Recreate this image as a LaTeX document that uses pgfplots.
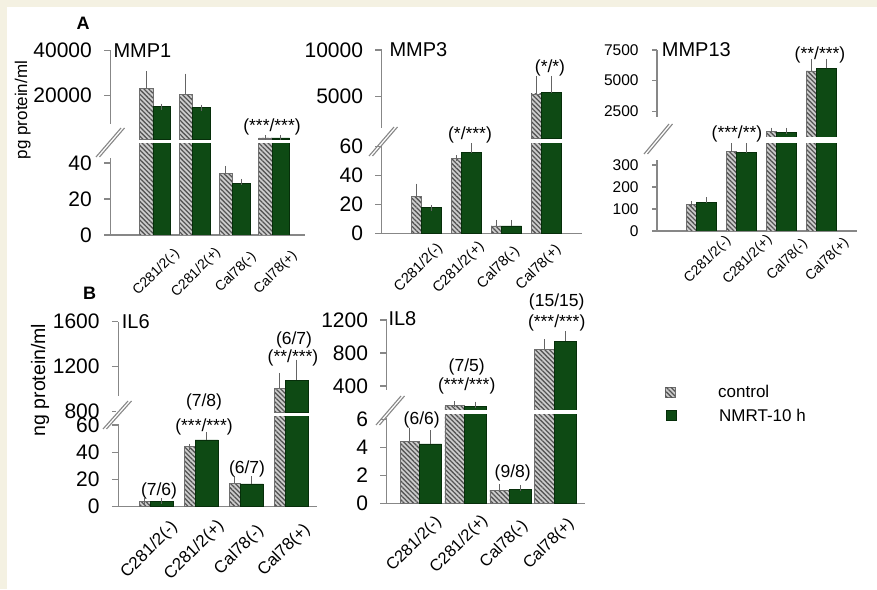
\documentclass[border=0pt]{standalone}
\usepackage{fontspec}
\setmainfont{Liberation Sans}
\usepackage{pgfplots}
\usepackage{pgfplotstable}
\pgfplotsset{compat=1.18}
\usetikzlibrary{patterns.meta}

\definecolor{nmrt}{RGB}{14,74,20}
\definecolor{nmrtedge}{RGB}{6,46,10}
\definecolor{ctrlfill}{RGB}{205,205,205}
\definecolor{ctrlline}{RGB}{85,85,85}
\definecolor{ctrledge}{RGB}{110,110,110}
\definecolor{axgray}{RGB}{135,135,135}
\definecolor{errgray}{RGB}{100,100,100}
\definecolor{cream}{RGB}{244,241,226}

\newcommand{\fs}[1]{\fontsize{#1}{#1}\selectfont}

\pgfplotstableread{
x c ce n ne
1 23100 6420 14840 0
2 20400 7900 14390 0
3 34.3 2.4 28.7 0.8
4 800 0 800 0
}\mmpone
\pgfplotstableread{
x c ce n ne
1 25.4 6.9 17.7 0
2 52 0 55.9 4.6
3 5.1 2.2 5.1 2.2
4 5289 1606 5428 1467
}\mmpthree
\pgfplotstableread{
x c ce n ne
1 122.7 0 128.6 12
2 360.5 27 355.9 32
3 850 80 770 130
4 5786 734 6006 539
}\mmpthirteen
\pgfplotstableread{
x c ce n ne
1 4 0 4 0
2 44 0 49 3.7
3 17.2 3.1 16.7 3.6
4 1008 110 1082 154
}\ilsix
\pgfplotstableread{
x c ce n ne
1 4.45 0.74 4.24 0.76
2 164 15 154 20
3 0.95 0.19 1.0 0.1
4 848 81 945 85
}\ileight

\pgfplotsset{
  base/.style={
    scale only axis, anchor=south west, clip mode=individual,
    enlargelimits=false, scaled y ticks=false,
    axis y line*=left,
    axis line style={axgray, line width=1.4pt},
    tick align=outside, major tick length=6.5pt,
    ytick style={axgray, line width=1.4pt},
    yticklabel style={font=\fs{21}, inner sep=0pt, anchor=east, xshift=-12pt},
    ybar,
  },
  low/.style={base, axis x line*=bottom, xtick={1,2,3,4},
    xticklabels={C281/2(-),C281/2(+),Cal78(-),Cal78(+)},
    xtick style={draw=none}},
  up/.style={base, axis x line=none, xtick=\empty},
  ctrl/.style={fill=ctrlfill, draw=ctrledge, line width=0.6pt,
    postaction={pattern={Lines[angle=-45,distance=3.3pt,line width=1.3pt]}, pattern color=ctrlline},
    error bars/y dir=plus, error bars/y explicit,
    error bars/error bar style={errgray, line width=1.1pt},
    error bars/error mark options={errgray, line width=1.1pt, mark size=3pt}},
  nm/.style={fill=nmrt, draw=nmrtedge, line width=0.6pt,
    error bars/y dir=plus, error bars/y explicit,
    error bars/error bar style={errgray, line width=1.1pt},
    error bars/error mark options={errgray, line width=1.1pt, mark size=3pt}},
}

\begin{document}
\begin{tikzpicture}
\useasboundingbox (0,0) rectangle (877pt,589pt);
\fill[cream] (0,0) rectangle (877pt,589pt);
\fill[white] (7pt,0) rectangle (877pt,581.7pt);

% ---------------- MMP1
\begin{axis}[low, at={(110.5pt,354pt)}, width=194.5pt, height=91.5pt,
  xmin=-0.1195, xmax=4.7736, ymin=0, ymax=50.83,
  restrict y to domain*=0:60,
  ytick={0,20,40}, yticklabels={0,20,40},
  xticklabel style={font=\fs{14}, inner sep=0pt, xshift=1.5pt, yshift=-31pt, rotate=45, anchor=center}]
\addplot[ctrl, bar width=13.3pt, bar shift=-8.85pt] table[x=x,y=c,y error=ce]{\mmpone};
\addplot[nm, bar width=17.6pt, bar shift=6.6pt] table[x=x,y=n,y error=ne]{\mmpone};
\end{axis}
\begin{axis}[up, at={(110.5pt,449.7pt)}, width=194.5pt, height=88.6pt,
  xmin=-0.1195, xmax=4.7736, ymin=200, ymax=40000,
  restrict y to domain=200:100000,
  ytick={20000,40000}, yticklabels={20000,40000}]
\addplot[ctrl, bar width=13.3pt, bar shift=-8.85pt] table[x=x,y=c,y error=ce]{\mmpone};
\addplot[nm, bar width=17.6pt, bar shift=6.6pt] table[x=x,y=n,y error=ne]{\mmpone};
\end{axis}

% ---------------- MMP3
\begin{axis}[low, at={(381.7pt,355.7pt)}, width=200.3pt, height=90pt,
  xmin=-0.125, xmax=4.8825, ymin=0, ymax=62.37,
  restrict y to domain*=0:75,
  ytick={0,20,40,60}, yticklabels={0,20,40,60},
  xticklabel style={font=\fs{14.6}, inner sep=0pt, xshift=-8pt, yshift=-28pt, rotate=45, anchor=center}]
\addplot[ctrl, bar width=10.5pt, bar shift=-10.25pt] table[x=x,y=c,y error=ce]{\mmpthree};
\addplot[nm, bar width=20pt, bar shift=5pt] table[x=x,y=n,y error=ne]{\mmpthree};
\end{axis}
\begin{axis}[up, at={(381.7pt,450.7pt)}, width=200.3pt, height=88.3pt,
  xmin=-0.125, xmax=4.8825, ymin=546, ymax=10000,
  restrict y to domain=546:100000,
  ytick={5000,10000}, yticklabels={5000,10000}]
\addplot[ctrl, bar width=10.5pt, bar shift=-10.25pt] table[x=x,y=c,y error=ce]{\mmpthree};
\addplot[nm, bar width=20pt, bar shift=5pt] table[x=x,y=n,y error=ne]{\mmpthree};
\end{axis}

% ---------------- MMP13
\begin{axis}[low, at={(657pt,358pt)}, width=200pt, height=87.7pt,
  xmin=-0.1203, xmax=4.8922, ymin=0, ymax=398.6,
  restrict y to domain*=0:480,
  major tick length=5pt,
  yticklabel style={font=\fs{15.5}, xshift=-1.3pt},
  ytick={0,100,200,300}, yticklabels={0,100,200,300},
  xticklabel style={font=\fs{14}, inner sep=0pt, xshift=6pt, yshift=-24pt, rotate=45, anchor=center}]
\addplot[ctrl, bar width=10pt, bar shift=-10pt] table[x=x,y=c,y error=ce]{\mmpthirteen};
\addplot[nm, bar width=20pt, bar shift=5pt] table[x=x,y=n,y error=ne]{\mmpthirteen};
\end{axis}
\begin{axis}[up, at={(657pt,452pt)}, width=200pt, height=87pt,
  xmin=-0.1203, xmax=4.8922, ymin=400, ymax=7500,
  restrict y to domain=400:100000,
  major tick length=5pt,
  yticklabel style={font=\fs{15.5}, xshift=-1.3pt},
  ytick={2500,5000,7500}, yticklabels={2500,5000,7500}]
\addplot[ctrl, bar width=10pt, bar shift=-10pt] table[x=x,y=c,y error=ce]{\mmpthirteen};
\addplot[nm, bar width=20pt, bar shift=5pt] table[x=x,y=n,y error=ne]{\mmpthirteen};
\end{axis}

% ---------------- IL6
\begin{axis}[low, at={(118.3pt,82.3pt)}, width=198.7pt, height=90pt,
  xmin=0.1556, xmax=4.571, ymin=0, ymax=66.08,
  restrict y to domain*=0:80,
  ytick={0,20,40,60}, yticklabels={0,20,40,60},
  xticklabel style={font=\fs{17}, inner sep=0pt, xshift=-7pt, yshift=-37pt, rotate=45, anchor=center}]
\addplot[ctrl, bar width=10.7pt, bar shift=-11.65pt] table[x=x,y=c,y error=ce]{\ilsix};
\addplot[nm, bar width=23.3pt, bar shift=5.35pt] table[x=x,y=n,y error=ne]{\ilsix};
\end{axis}
\begin{axis}[up, at={(118.3pt,176.7pt)}, width=198.7pt, height=90.6pt,
  xmin=0.1556, xmax=4.571, ymin=795, ymax=1600,
  restrict y to domain=795:100000,
  ytick={800,1200,1600}, yticklabels={800,1200,1600}]
\addplot[ctrl, bar width=10.7pt, bar shift=-11.65pt] table[x=x,y=c,y error=ce]{\ilsix};
\addplot[nm, bar width=23.3pt, bar shift=5.35pt] table[x=x,y=n,y error=ne]{\ilsix};
\end{axis}

% ---------------- IL8
\begin{axis}[low, at={(386.7pt,85.7pt)}, width=198.3pt, height=89pt,
  xmin=0.2394, xmax=4.656, ymin=0, ymax=6.357,
  restrict y to domain*=0:7.7,
  ytick={0,2,4,6}, yticklabels={0,2,4,6},
  xticklabel style={font=\fs{16.5}, inner sep=0pt, xshift=-6.5pt, yshift=-34.5pt, rotate=45, anchor=center}]
\addplot[ctrl, bar width=19.3pt, bar shift=-11.2pt] table[x=x,y=c,y error=ce]{\ileight};
\addplot[nm, bar width=22.4pt, bar shift=9.65pt] table[x=x,y=n,y error=ne]{\ileight};
\end{axis}
\begin{axis}[up, at={(386.7pt,179pt)}, width=198.3pt, height=90pt,
  xmin=0.2394, xmax=4.656, ymin=109, ymax=1200,
  restrict y to domain=109:100000,
  ytick={400,800,1200}, yticklabels={400,800,1200}]
\addplot[ctrl, bar width=19.3pt, bar shift=-11.2pt] table[x=x,y=c,y error=ce]{\ileight};
\addplot[nm, bar width=22.4pt, bar shift=9.65pt] table[x=x,y=n,y error=ne]{\ileight};
\end{axis}

% ---------------- axis breaks
\fill[white] (108.5pt,431pt) rectangle (112.5pt,465pt);
\fill[white] (379.7pt,444pt) rectangle (383.7pt,461pt);
\fill[white] (655pt,429pt) rectangle (659pt,472pt);
\fill[white] (116.3pt,165pt) rectangle (120.3pt,193pt);
\fill[white] (384.7pt,171pt) rectangle (388.7pt,199pt);
\begin{scope}[axgray, line width=1.1pt]
\draw (96pt,432pt) -- (121pt,461pt); \draw (99.5pt,432pt) -- (124.5pt,461pt);
\draw (369pt,433pt) -- (394pt,462pt); \draw (372.5pt,433pt) -- (397.5pt,462pt);
\draw (644pt,435pt) -- (669pt,465pt); \draw (647.5pt,435pt) -- (672.5pt,465pt);
\draw (103pt,160pt) -- (128pt,188pt); \draw (106.5pt,160pt) -- (131.5pt,188pt);
\draw (376pt,164pt) -- (401pt,193pt); \draw (379.5pt,164pt) -- (404.5pt,193pt);
\end{scope}

% ---------------- texts
\node[font=\bfseries\fs{18}, inner sep=0pt] at (83pt,565.5pt) {A};
\node[font=\bfseries\fs{18}, inner sep=0pt] at (89.7pt,295.3pt) {B};
\node[rotate=90, font=\fs{17}, inner sep=0pt] at (22.7pt,479pt) {pg protein/ml};
\node[rotate=90, font=\fs{19.5}, inner sep=0pt] at (40pt,209pt) {ng protein/ml};
\node[anchor=west, font=\fs{20}, inner sep=0pt] at (113.3pt,538.3pt) {MMP1};
\node[anchor=west, font=\fs{20}, inner sep=0pt] at (389.3pt,539pt) {MMP3};
\node[anchor=west, font=\fs{20}, inner sep=0pt] at (661.7pt,539pt) {MMP13};
\node[anchor=west, font=\fs{20}, inner sep=0pt] at (121.7pt,267.3pt) {IL6};
\node[anchor=west, font=\fs{20}, inner sep=0pt] at (388.3pt,270.7pt) {IL8};

\begin{scope}[every node/.style={font=\fs{17.5}, inner sep=0pt}]
\node at (272pt,462pt) {(***/***)};
\node at (470pt,454.5pt) {(*/***)};
\node at (550pt,520.7pt) {(*/*)};
\node at (737pt,455pt) {(***/**)};
\node at (820pt,534pt) {(**/***)};
\node at (159pt,98.3pt) {(7/6)};
\node at (204pt,187.3pt) {(7/8)};
\node at (204pt,162.3pt) {(***/***)};
\node at (247pt,120pt) {(6/7)};
\node at (294pt,249pt) {(6/7)};
\node at (293pt,231pt) {(**/***)};
\node at (421.7pt,169pt) {(6/6)};
\node at (466.7pt,222.3pt) {(7/5)};
\node at (466.7pt,203pt) {(***/***)};
\node at (512.7pt,116pt) {(9/8)};
\node at (556.7pt,287.3pt) {(15/15)};
\node at (556.7pt,266.3pt) {(***/***)};
\end{scope}

% ---------------- legend
\path[fill=ctrlfill, draw=ctrledge, line width=0.6pt,
  postaction={pattern={Lines[angle=-45,distance=3.3pt,line width=1.3pt]}, pattern color=ctrlline}]
  (665pt,191.3pt) rectangle (675pt,201.3pt);
\path[fill=nmrt, draw=nmrtedge, line width=0.6pt] (666.7pt,169pt) rectangle (676.7pt,179pt);
\node[anchor=west, inner sep=0pt, font=\fs{17}] at (718pt,197.3pt) {control};
\node[anchor=west, inner sep=0pt, font=\fs{17}] at (719pt,173.2pt) {NMRT-10 h};
\end{tikzpicture}
\end{document}
